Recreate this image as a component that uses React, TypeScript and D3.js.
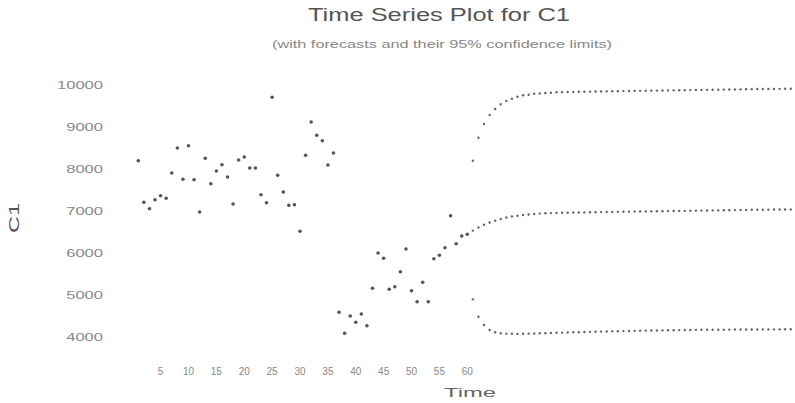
import React, { useEffect, useRef } from "react";
import * as d3 from "d3";

// Observed series C1, t = 1..60
const obsTime: number[] = d3.range(1, 61);
const obsValues: number[] = [
  8198, 7207, 7055, 7269, 7364, 7302, 7905, 8500, 7755, 8555,
  7745, 6976, 8255, 7650, 7952, 8102, 7810, 7167, 8214, 8286,
  8024, 8024, 7388, 7198, 9707, 7850, 7452, 7135, 7150, 6517,
  8326, 9119, 8802, 8674, 8095, 8381, 4588, 4088, 4500, 4350,
  4548, 4269, 5159, 6000, 5874, 5136, 5198, 5555, 6095, 5102,
  4840, 5302, 4840, 5864, 5945, 6126, 6888, 6221, 6405, 6445,
];

// Forecast horizon t = 61..119
const fcTime: number[] = d3.range(61, 120);
const fcMean: number[] = [
  6533, 6607, 6671, 6725, 6770, 6810, 6845, 6868, 6888, 6903,
  6917, 6928, 6938, 6945, 6950, 6955, 6958, 6960, 6963, 6965,
  6967, 6970, 6972, 6974, 6976, 6978, 6980, 6982, 6984, 6986,
  6988, 6990, 6992, 6994, 6996, 6998, 7000, 7002, 7004, 7006,
  7008, 7010, 7012, 7014, 7016, 7018, 7020, 7022, 7024, 7026,
  7028, 7030, 7031, 7032, 7034, 7035, 7036, 7038, 7040,
];
const fcUpper: number[] = [
  8198, 8745, 9071, 9286, 9429, 9540, 9619, 9674, 9722, 9755,
  9769, 9790, 9800, 9810, 9817, 9826, 9830, 9833, 9836, 9838,
  9841, 9843, 9845, 9847, 9849, 9851, 9853, 9855, 9857, 9859,
  9861, 9863, 9865, 9867, 9869, 9871, 9873, 9875, 9877, 9879,
  9881, 9883, 9885, 9887, 9889, 9891, 9893, 9895, 9897, 9899,
  9901, 9903, 9905, 9906, 9907, 9908, 9909, 9910, 9912,
];
const fcLower: number[] = [
  4897, 4483, 4286, 4167, 4112, 4088, 4080, 4076, 4074, 4076,
  4080, 4084, 4088, 4092, 4096, 4100, 4104, 4108, 4112, 4116,
  4120, 4123, 4126, 4129, 4132, 4135, 4138, 4141, 4144, 4147,
  4150, 4152, 4154, 4156, 4158, 4160, 4162, 4164, 4166, 4168,
  4170, 4171, 4172, 4173, 4174, 4175, 4176, 4177, 4178, 4179,
  4180, 4180, 4181, 4181, 4182, 4182, 4183, 4183, 4184,
];

const yTicks: number[] = [4000, 5000, 6000, 7000, 8000, 9000, 10000];
const xTicks: number[] = [5, 10, 15, 20, 25, 30, 35, 40, 45, 50, 55, 60];

const titleText = "Time Series Plot for C1";
const subtitleText = "(with forecasts and their 95% confidence limits)";
const xLabel = "Time";
const yLabel = "C1";

const W = 795;
const H = 403;

export default function App() {
  const ref = useRef<SVGSVGElement | null>(null);

  useEffect(() => {
    document.body.style.margin = "0";
    const svg = d3.select(ref.current);
    svg.selectAll("*").remove();

    const x = d3.scaleLinear().domain([1, 60]).range([138.3, 467.3]);
    const y = d3.scaleLinear().domain([4000, 10000]).range([337, 85]);
    const font = "Liberation Sans, Arial, sans-serif";

    svg.append("rect").attr("width", W).attr("height", H).attr("fill", "#fff");

    // Titles
    svg.append("text")
      .attr("x", 439).attr("y", 21)
      .attr("text-anchor", "middle")
      .attr("font-family", font).attr("font-size", 18)
      .attr("fill", "#555")
      .attr("textLength", 262).attr("lengthAdjust", "spacingAndGlyphs")
      .text(titleText);
    svg.append("text")
      .attr("x", 442).attr("y", 48)
      .attr("text-anchor", "middle")
      .attr("font-family", font).attr("font-size", 10)
      .attr("fill", "#888")
      .attr("textLength", 340).attr("lengthAdjust", "spacingAndGlyphs")
      .text(subtitleText);

    // Y tick labels
    svg.append("g").selectAll("text").data(yTicks).join("text")
      .attr("x", 103).attr("y", (d) => y(d) + 4)
      .attr("text-anchor", "end")
      .attr("font-family", font).attr("font-size", 11)
      .attr("fill", "#888")
      .attr("textLength", (d) => String(d).length * 9.2)
      .attr("lengthAdjust", "spacingAndGlyphs")
      .text((d) => String(d));

    // X tick labels
    svg.append("g").selectAll("text").data(xTicks).join("text")
      .attr("x", (d) => x(d)).attr("y", 375)
      .attr("text-anchor", "middle")
      .attr("font-family", font).attr("font-size", 10)
      .attr("fill", "#888")
      .text((d) => String(d));

    // Axis labels
    svg.append("text")
      .attr("x", 470).attr("y", 397)
      .attr("text-anchor", "middle")
      .attr("font-family", font).attr("font-size", 13)
      .attr("fill", "#666")
      .attr("textLength", 52).attr("lengthAdjust", "spacingAndGlyphs")
      .text(xLabel);
    svg.append("text")
      .attr("transform", "translate(19,218) rotate(-90)")
      .attr("text-anchor", "middle")
      .attr("font-family", font).attr("font-size", 15)
      .attr("fill", "#555")
      .attr("textLength", 30).attr("lengthAdjust", "spacingAndGlyphs")
      .text(yLabel);

    // Observed points
    svg.append("g").selectAll("circle").data(obsTime).join("circle")
      .attr("cx", (d) => x(d))
      .attr("cy", (_d, i) => y(obsValues[i]))
      .attr("r", 1.8)
      .attr("fill", "#555");

    // Forecast & limits
    const series = [fcUpper, fcMean, fcLower];
    series.forEach((vals) => {
      svg.append("g").selectAll("circle").data(fcTime).join("circle")
        .attr("cx", (d) => x(d))
        .attr("cy", (_d, i) => y(vals[i]))
        .attr("r", 1.2)
        .attr("fill", "#666");
    });
  }, []);

  return <svg ref={ref} width={W} height={H} style={{ display: "block" }} />;
}
